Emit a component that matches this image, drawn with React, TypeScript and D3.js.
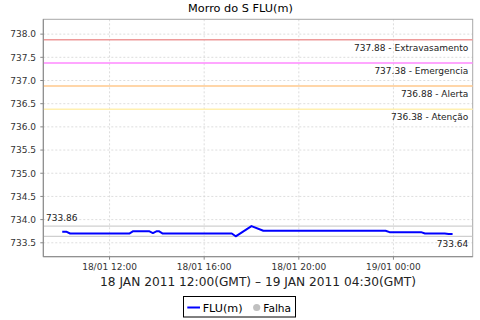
import React from "react";
import * as d3 from "d3";

// ---- data ----
const times: string[] = [
  "2011-01-18T10:00", "2011-01-18T10:10", "2011-01-18T10:20", "2011-01-18T12:50",
  "2011-01-18T13:00", "2011-01-18T13:40", "2011-01-18T13:50", "2011-01-18T14:00",
  "2011-01-18T14:05", "2011-01-18T14:15", "2011-01-18T17:10", "2011-01-18T17:20",
  "2011-01-18T18:00", "2011-01-18T18:30", "2011-01-18T23:40", "2011-01-18T23:50",
  "2011-01-19T01:10", "2011-01-19T01:20", "2011-01-19T02:10", "2011-01-19T02:20",
  "2011-01-19T02:30",
];
const levels: number[] = [
  733.74, 733.74, 733.70, 733.70,
  733.75, 733.75, 733.71, 733.75,
  733.75, 733.70, 733.70, 733.64,
  733.86, 733.76, 733.76, 733.73,
  733.73, 733.70, 733.70, 733.69,
  733.69,
];
const thresholdValues: number[] = [737.88, 737.38, 736.88, 736.38];
const thresholdNames: string[] = ["Extravasamento", "Emergencia", "Alerta", "Atenção"];
const thresholdColors: string[] = ["#ee9a9a", "#ff88ff", "#ffc98c", "#fff0b0"];
const maxValue = 733.86;
const minValue = 733.64;
const yTicks: number[] = [733.5, 734.0, 734.5, 735.0, 735.5, 736.0, 736.5, 737.0, 737.5, 738.0];
const yDomain: [number, number] = [733.2, 738.32];
const xDomainStrings: [string, string] = ["2011-01-18T09:12", "2011-01-19T03:21"];
const title = "Morro do S FLU(m)";
const subtitle = "18 JAN 2011 12:00(GMT) – 19 JAN 2011 04:30(GMT)";
const seriesName = "FLU(m)";
const failName = "Falha";

const FONT = "'DejaVu Sans', sans-serif";

export default function App() {
  const W = 480, H = 320;
  const left = 43.3, right = 472.7, top = 19.3, bottom = 256.7;
  const parse = d3.timeParse("%Y-%m-%dT%H:%M");
  const x = d3.scaleTime()
    .domain(xDomainStrings.map((s) => parse(s) as Date))
    .range([left, right]);
  const y = d3.scaleLinear().domain(yDomain).range([bottom, top]);
  const pts = times.map((t, i) => ({ t: parse(t) as Date, v: levels[i] }));
  const line = d3.line<{ t: Date; v: number }>().x((d) => x(d.t)).y((d) => y(d.v));
  const xTicks = x.ticks(d3.timeHour.every(4) as d3.TimeInterval);
  const fmtX = d3.timeFormat("%d/%m %H:%M");
  const fmtY = d3.format(".1f");
  const fmtV = d3.format(".2f");

  return (
    <svg width={W} height={H} style={{ position: "absolute", left: 0, top: 0, background: "#fff" }}
      fontFamily={FONT}>
      <rect x={0} y={0} width={W} height={H} fill="#fff" />
      <text x={240.5} y={12} textAnchor="middle" fontSize={11.3} fill="#000">{title}</text>
      {/* grid */}
      {yTicks.map((t) => (
        <line key={"gy" + t} x1={left} x2={right} y1={y(t)} y2={y(t)} stroke="#d4d4d4"
          strokeWidth={0.8} strokeDasharray="2,2" />
      ))}
      {xTicks.map((t, i) => (
        <line key={"gx" + i} x1={x(t)} x2={x(t)} y1={top} y2={bottom} stroke="#d4d4d4"
          strokeWidth={0.8} strokeDasharray="2,2" />
      ))}
      {/* plot outline */}
      <rect x={left} y={top} width={right - left} height={bottom - top} fill="none"
        stroke="#a8a8a8" strokeWidth={1} />
      {/* thresholds */}
      {thresholdValues.map((v, i) => (
        <g key={"th" + v}>
          <line x1={left} x2={right} y1={y(v)} y2={y(v)} stroke={thresholdColors[i]} strokeWidth={1.5} />
          <text x={468.3} y={y(v) + 11} textAnchor="end" fontSize={9} fill="#222">
            {fmtV(v) + " - " + thresholdNames[i]}
          </text>
        </g>
      ))}
      {/* max/min markers */}
      <line x1={left} x2={right} y1={y(maxValue)} y2={y(maxValue)} stroke="#c4c4c4" strokeWidth={1} />
      <line x1={left} x2={right} y1={y(minValue)} y2={y(minValue)} stroke="#c4c4c4" strokeWidth={1} />
      <text x={46} y={y(maxValue) - 5} fontSize={9} fill="#222">{fmtV(maxValue)}</text>
      <text x={468.3} y={y(minValue) + 11} textAnchor="end" fontSize={9} fill="#222">{fmtV(minValue)}</text>
      {/* series */}
      <path d={line(pts) || ""} fill="none" stroke="#0000ff" strokeWidth={2} strokeLinejoin="round" />
      {/* axes */}
      <line x1={left} x2={left} y1={top} y2={bottom} stroke="#888" strokeWidth={1} />
      <line x1={left} x2={right} y1={bottom} y2={bottom} stroke="#888" strokeWidth={1} />
      {yTicks.map((t) => (
        <g key={"yt" + t}>
          <line x1={left - 3} x2={left} y1={y(t)} y2={y(t)} stroke="#888" />
          <text x={36} y={y(t) + 3.3} textAnchor="end" fontSize={9} fill="#333">{fmtY(t)}</text>
        </g>
      ))}
      {xTicks.map((t, i) => (
        <g key={"xt" + i}>
          <line x1={x(t)} x2={x(t)} y1={bottom} y2={bottom + 3} stroke="#888" />
          <text x={x(t)} y={270} textAnchor="middle" fontSize={9} fill="#333">{fmtX(t)}</text>
        </g>
      ))}
      <text x={(left + right) / 2} y={286} textAnchor="middle" fontSize={12.2} fill="#222">{subtitle}</text>
      {/* legend */}
      <rect x={183.5} y={296.5} width={112} height={20.5} fill="#fff" stroke="#000" strokeWidth={1} />
      <line x1={187.3} x2={200} y1={307.5} y2={307.5} stroke="#0000ff" strokeWidth={2} />
      <text x={202.7} y={312} fontSize={11.2} fill="#000">{seriesName}</text>
      <circle cx={256.7} cy={307.5} r={3.6} fill="#c0c0c0" />
      <text x={263.3} y={312} fontSize={10.6} fill="#000">{failName}</text>
    </svg>
  );
}
